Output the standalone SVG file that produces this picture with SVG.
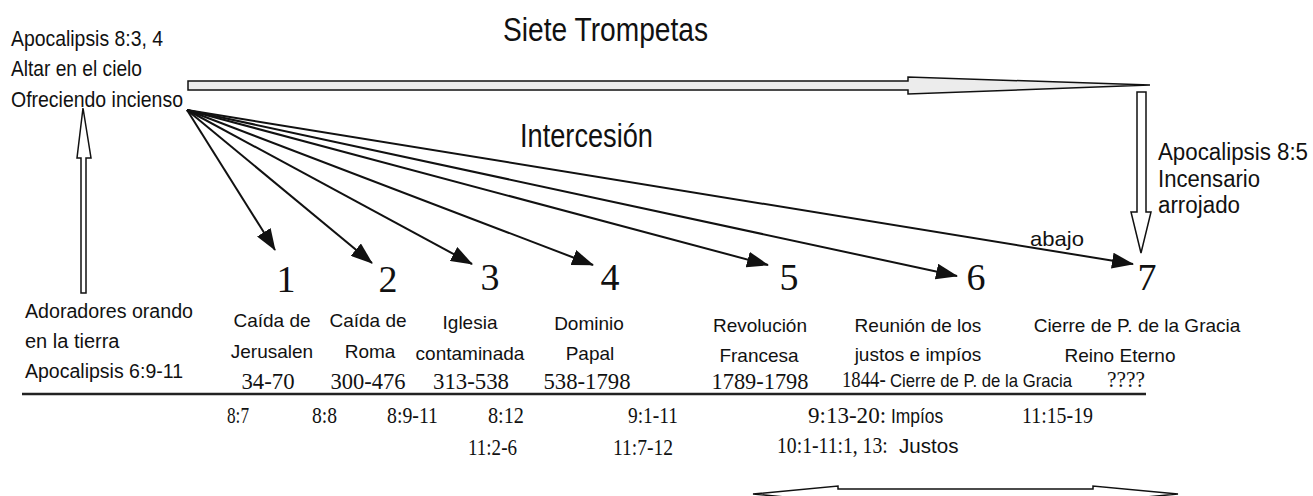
<svg xmlns="http://www.w3.org/2000/svg" width="1313" height="496" viewBox="0 0 1313 496">
<style>
.s{font-family:"Liberation Sans",Arial,sans-serif;fill:#111}
.r{font-family:"Liberation Serif","Times New Roman",serif;fill:#111}
.lab{font-size:19px;text-anchor:middle}
.num{font-size:38px;text-anchor:middle}
.date{font-size:24px;text-anchor:middle}
.ref{font-size:24px}
.fan{stroke:#111;stroke-width:2;fill:none;marker-end:url(#ah)}
.open{fill:#fff;stroke:#111;stroke-width:1.5}
</style>
<defs>
<marker id="ah" markerUnits="userSpaceOnUse" markerWidth="22" markerHeight="16" refX="21" refY="8" orient="auto">
<path d="M0,0 L22,8 L0,16 Z" fill="#111"/>
</marker>
</defs>
<rect width="1313" height="496" fill="#fff"/>

<g id="title">
<text class="s" x="503" y="41" font-size="33" textLength="205" lengthAdjust="spacingAndGlyphs">Siete Trompetas</text>
</g>

<g id="altar">
<text class="s" x="11" y="46" font-size="22" textLength="152" lengthAdjust="spacingAndGlyphs">Apocalipsis 8:3, 4</text>
<text class="s" x="11" y="76" font-size="22" textLength="131" lengthAdjust="spacingAndGlyphs">Altar en el cielo</text>
<text class="s" x="11" y="107" font-size="22" textLength="172" lengthAdjust="spacingAndGlyphs">Ofreciendo incienso</text>
</g>

<g id="intercesion">
<text class="s" x="520" y="147" font-size="33" textLength="133" lengthAdjust="spacingAndGlyphs">Intercesión</text>
</g>

<g id="incensario">
<text class="s" x="1158" y="160" font-size="23" textLength="150" lengthAdjust="spacingAndGlyphs">Apocalipsis 8:5</text>
<text class="s" x="1158" y="187" font-size="23" textLength="102" lengthAdjust="spacingAndGlyphs">Incensario</text>
<text class="s" x="1158" y="213" font-size="23" textLength="82" lengthAdjust="spacingAndGlyphs">arrojado</text>
</g>

<g id="adoradores">
<text class="s" x="25" y="318" font-size="20" textLength="168" lengthAdjust="spacingAndGlyphs">Adoradores orando</text>
<text class="s" x="25" y="348" font-size="20">en la tierra</text>
<text class="s" x="25" y="378" font-size="20" textLength="158" lengthAdjust="spacingAndGlyphs">Apocalipsis 6:9-11</text>
</g>

<g id="timeline">
<line x1="22" y1="394" x2="1146" y2="394" stroke="#222" stroke-width="2.5"/>
</g>

<g id="t1">
<text class="r num" x="286" y="292">1</text>
<text class="s lab" x="272" y="327">Caída de</text>
<text class="s lab" x="272" y="358">Jerusalen</text>
<text class="r date" x="268" y="389" textLength="53" lengthAdjust="spacingAndGlyphs">34-70</text>
<text class="r ref" x="227" y="423" textLength="22" lengthAdjust="spacingAndGlyphs">8:7</text>
</g>

<g id="t2">
<text class="r num" x="388" y="292">2</text>
<text class="s lab" x="368" y="327">Caída de</text>
<text class="s lab" x="370" y="358">Roma</text>
<text class="r date" x="368" y="389" textLength="75" lengthAdjust="spacingAndGlyphs">300-476</text>
<text class="r ref" x="312" y="423" textLength="25" lengthAdjust="spacingAndGlyphs">8:8</text>
</g>

<g id="t3">
<text class="r num" x="490" y="290">3</text>
<text class="s lab" x="470" y="329">Iglesia</text>
<text class="s lab" x="470" y="360">contaminada</text>
<text class="r date" x="471" y="389" textLength="76" lengthAdjust="spacingAndGlyphs">313-538</text>
<text class="r ref" x="387" y="423" textLength="51" lengthAdjust="spacingAndGlyphs">8:9-11</text>
</g>

<g id="t4">
<text class="r num" x="610" y="290">4</text>
<text class="s lab" x="589" y="330">Dominio</text>
<text class="s lab" x="590" y="360">Papal</text>
<text class="r date" x="587" y="389" textLength="87" lengthAdjust="spacingAndGlyphs">538-1798</text>
<text class="r ref" x="488" y="423" textLength="36" lengthAdjust="spacingAndGlyphs">8:12</text>
<text class="r ref" x="468" y="455" textLength="49" lengthAdjust="spacingAndGlyphs">11:2-6</text>
</g>

<g id="t5">
<text class="r num" x="789" y="290">5</text>
<text class="s lab" x="760" y="332">Revolución</text>
<text class="s lab" x="759" y="362">Francesa</text>
<text class="r date" x="760" y="389" textLength="97" lengthAdjust="spacingAndGlyphs">1789-1798</text>
<text class="r ref" x="628" y="423" textLength="50" lengthAdjust="spacingAndGlyphs">9:1-11</text>
<text class="r ref" x="613" y="455" textLength="60" lengthAdjust="spacingAndGlyphs">11:7-12</text>
</g>

<g id="t6">
<text class="r num" x="976" y="290">6</text>
<text class="s lab" x="918" y="332">Reunión de los</text>
<text class="s lab" x="918" y="361">justos e impíos</text>
<text class="r" font-size="24" transform="matrix(0.78,0,0,1,842,387)">1844-</text>
<text class="s" font-size="18" transform="matrix(0.93,0,0,1,890,387)">Cierre de P. de la Gracia</text>
<text class="r" font-size="24" transform="matrix(0.96,0,0,1,808,423)">9:13-20:</text>
<text class="s" font-size="20" transform="matrix(0.87,0,0,1,891,423)">Impíos</text>
<text class="r" font-size="24" transform="matrix(0.82,0,0,1,777,453)">10:1-11:1, 13:</text>
<text class="s" font-size="21" transform="matrix(0.98,0,0,1,899,453)">Justos</text>
</g>

<g id="t7">
<text class="r num" x="1147" y="290">7</text>
<text class="s lab" x="1137" y="332">Cierre de P. de la Gracia</text>
<text class="s lab" x="1120" y="362">Reino Eterno</text>
<text class="r" x="1107" y="387" font-size="24" textLength="38" lengthAdjust="spacingAndGlyphs">????</text>
<text class="r ref" x="1022" y="423" textLength="71" lengthAdjust="spacingAndGlyphs">11:15-19</text>
</g>

<g id="connectors">
<polygon class="open" points="188,81 908,81 908,77 1150,85 908,94 908,90 188,90" style="fill:#ececec"/>
<polygon class="open" points="1137,92 1146,92 1146,212 1151,212 1141,253 1131,212 1137,212"/>
<polygon class="open" points="81,293 81,158 77,158 83,108 91,158 86,158 86,293"/>
<polygon class="open" points="753,494 838,486 838,489 1093,489 1093,486 1178,494 1093,502 1093,499 838,499 838,502"/>
<line class="fan" x1="187" y1="110" x2="275" y2="250"/>
<line class="fan" x1="187" y1="110" x2="372" y2="263"/>
<line class="fan" x1="187" y1="110" x2="472" y2="264"/>
<line class="fan" x1="187" y1="110" x2="593" y2="265"/>
<line class="fan" x1="187" y1="110" x2="768" y2="265"/>
<line class="fan" x1="187" y1="110" x2="957" y2="276"/>
<line class="fan" x1="187" y1="110" x2="1133" y2="264"/>
<text class="s" x="1030" y="246" font-size="21" textLength="54" lengthAdjust="spacingAndGlyphs">abajo</text>
</g>
</svg>
